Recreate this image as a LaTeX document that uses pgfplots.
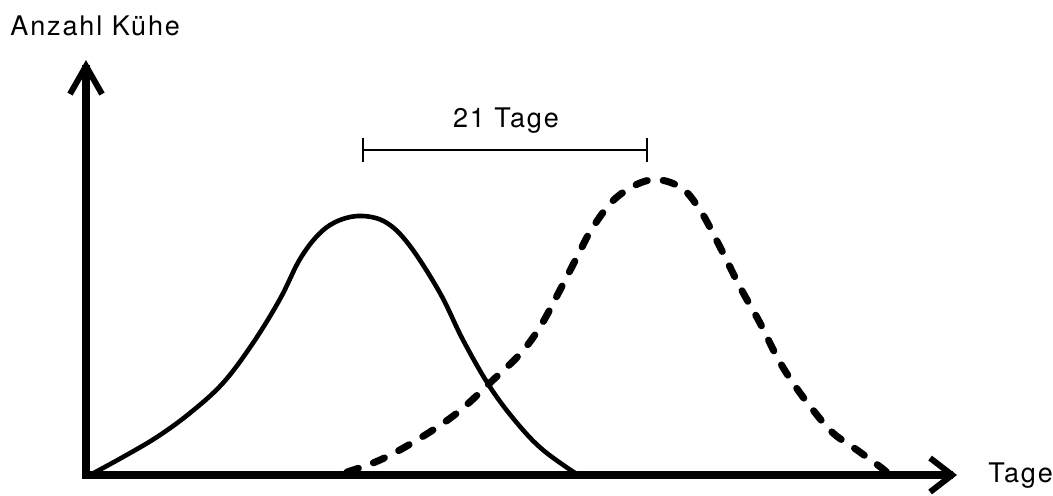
\documentclass[border=0pt]{standalone}
\usepackage{pgfplots}
\pgfplotsset{compat=1.18}
\usepackage{fontspec}
\setmainfont{TeX Gyre Heros}[LetterSpace=7]
\usetikzlibrary{arrows.meta}

\begin{document}
\begin{tikzpicture}
\begin{axis}[
    x=0.5pt, y=0.5pt,
    xmin=86, xmax=957, ymin=14, ymax=429,
    axis lines=left,
    axis line style={line width=4pt, line cap=rect},
    x axis line style={-{Straight Barb[length=11pt,width=17pt,line width=3pt]}},
    y axis line style={-{Straight Barb[length=14pt,width=16pt,line width=3pt]}},
    xtick=\empty, ytick=\empty,
    clip=false,
    font=\fontsize{13.5}{16}\selectfont,
]
% keep the whole canvas
\path (axis cs:0,0) rectangle (axis cs:1053,489);

% first heat cycle (solid)
\addplot[black, line width=2.3pt, smooth, tension=0.6] coordinates {
    (90,14) (123,32) (157,52) (190,76) (223,106) (253,146)
    (280,190) (300,230) (320,256) (340,269) (363,273) (387,266)
    (410,243) (440,196) (463,149) (490,102)
    (517,66) (543,39) (578,14)
};

% second heat cycle (dashed)
\addplot[black, line width=3.5pt, line cap=round, dash pattern=on 6pt off 8pt, smooth, tension=0.6] coordinates {
    (347,17) (380,29) (417,49) (457,76) (493,109) (520,135) (540,162)
    (560,199) (577,232) (593,262) (617,292) (650,309) (680,302)
    (700,279) (720,242) (740,202) (760,166) (777,132) (793,106)
    (813,79) (833,56) (857,39) (883,20) (888,15)
};

% 21-day bracket
\draw[line width=0.8pt] (axis cs:363,339) -- (axis cs:647,339);
\draw[line width=0.9pt] (axis cs:363,327) -- (axis cs:363,351);
\draw[line width=0.9pt] (axis cs:647,327) -- (axis cs:647,351);
\node[anchor=base] at (axis cs:506,362) {21 Tage};

\node[anchor=base west, inner sep=0pt] at (axis cs:10,454) {Anzahl Kühe};
\node[anchor=base west, inner sep=0pt] at (axis cs:988,7) {Tage};
\end{axis}
\end{tikzpicture}
\end{document}
